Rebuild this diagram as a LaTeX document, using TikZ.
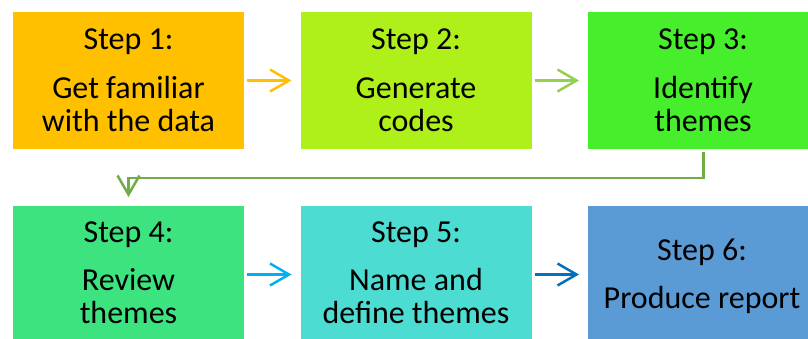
\documentclass[tikz,border=0pt]{standalone}
\usepackage{fontspec}
\setmainfont{Carlito}
\usetikzlibrary{arrows.meta}

\definecolor{stepA}{HTML}{FFC000}
\definecolor{stepB}{HTML}{AFF01B}
\definecolor{stepC}{HTML}{46EE2B}
\definecolor{stepD}{HTML}{3CE37F}
\definecolor{stepE}{HTML}{4DDCD1}
\definecolor{stepF}{HTML}{5B9BD5}
\definecolor{arrA}{HTML}{FFC000}
\definecolor{arrB}{HTML}{92D050}
\definecolor{arrC}{HTML}{70AD47}
\definecolor{arrD}{HTML}{00B0F0}
\definecolor{arrE}{HTML}{0070C0}

\begin{document}
\begin{tikzpicture}[x=1pt,y=-1pt,
  stepbox/.style={rectangle, inner sep=0pt, outer sep=0pt,
    minimum width=231pt, minimum height=137pt},
  steptext/.style={anchor=base, inner sep=0pt,
    font=\fontsize{32}{33}\selectfont},
  flow/.style={line width=2.5pt,
    -{Straight Barb[length=19pt, width=22pt, line width=2.5pt]},
    shorten <=3pt, shorten >=9pt}
]
\clip (0,0) rectangle (808,338);
\fill[white] (0,0) rectangle (808,338);

% boxes
\node[stepbox, fill=stepA] (s1) at (128.5,80.5) {};
\node[stepbox, fill=stepB] (s2) at (416,80.5) {};
\node[stepbox, fill=stepC] (s3) at (703.5,80.5) {};
\node[stepbox, fill=stepD] (s4) at (128.5,274.5) {};
\node[stepbox, fill=stepE] (s5) at (416,274.5) {};
\node[stepbox, fill=stepF] (s6) at (703.5,274.5) {};

% labels, row 1
\node[steptext] (t1a) at (128.5,49) {Step 1:};
\node[steptext] (t1b) at (128.5,98) {Get familiar};
\node[steptext] (t1c) at (128.5,131) {with the data};
\node[steptext] (t2a) at (416,49) {Step 2:};
\node[steptext] (t2b) at (416,98) {Generate};
\node[steptext] (t2c) at (416,131) {codes};
\node[steptext] (t3a) at (703,49) {Step 3:};
\node[steptext] (t3b) at (703,98) {Identify};
\node[steptext] (t3c) at (703,131) {themes};

% labels, row 2
\node[steptext] (t4a) at (128.5,242) {Step 4:};
\node[steptext] (t4b) at (128.5,290) {Review};
\node[steptext] (t4c) at (128.5,323) {themes};
\node[steptext] (t5a) at (416,242) {Step 5:};
\node[steptext] (t5b) at (416,290) {Name and};
\node[steptext] (t5c) at (416,323) {define themes};
\node[steptext] (t6a) at (702,260) {Step 6:};
\node[steptext] (t6b) at (702,308) {Produce report};

% connectors
\draw[flow, arrA] (s1.east) -- (s2.west);
\draw[flow, arrB] (s2.east) -- (s3.west);
\draw[flow, arrD] (s4.east) -- (s5.west);
\draw[flow, arrE] (s5.east) -- (s6.west);
\draw[flow, arrC, line width=2.4pt] (s3.south) -- ++(0,29) -| (s4.north);
\end{tikzpicture}
\end{document}
